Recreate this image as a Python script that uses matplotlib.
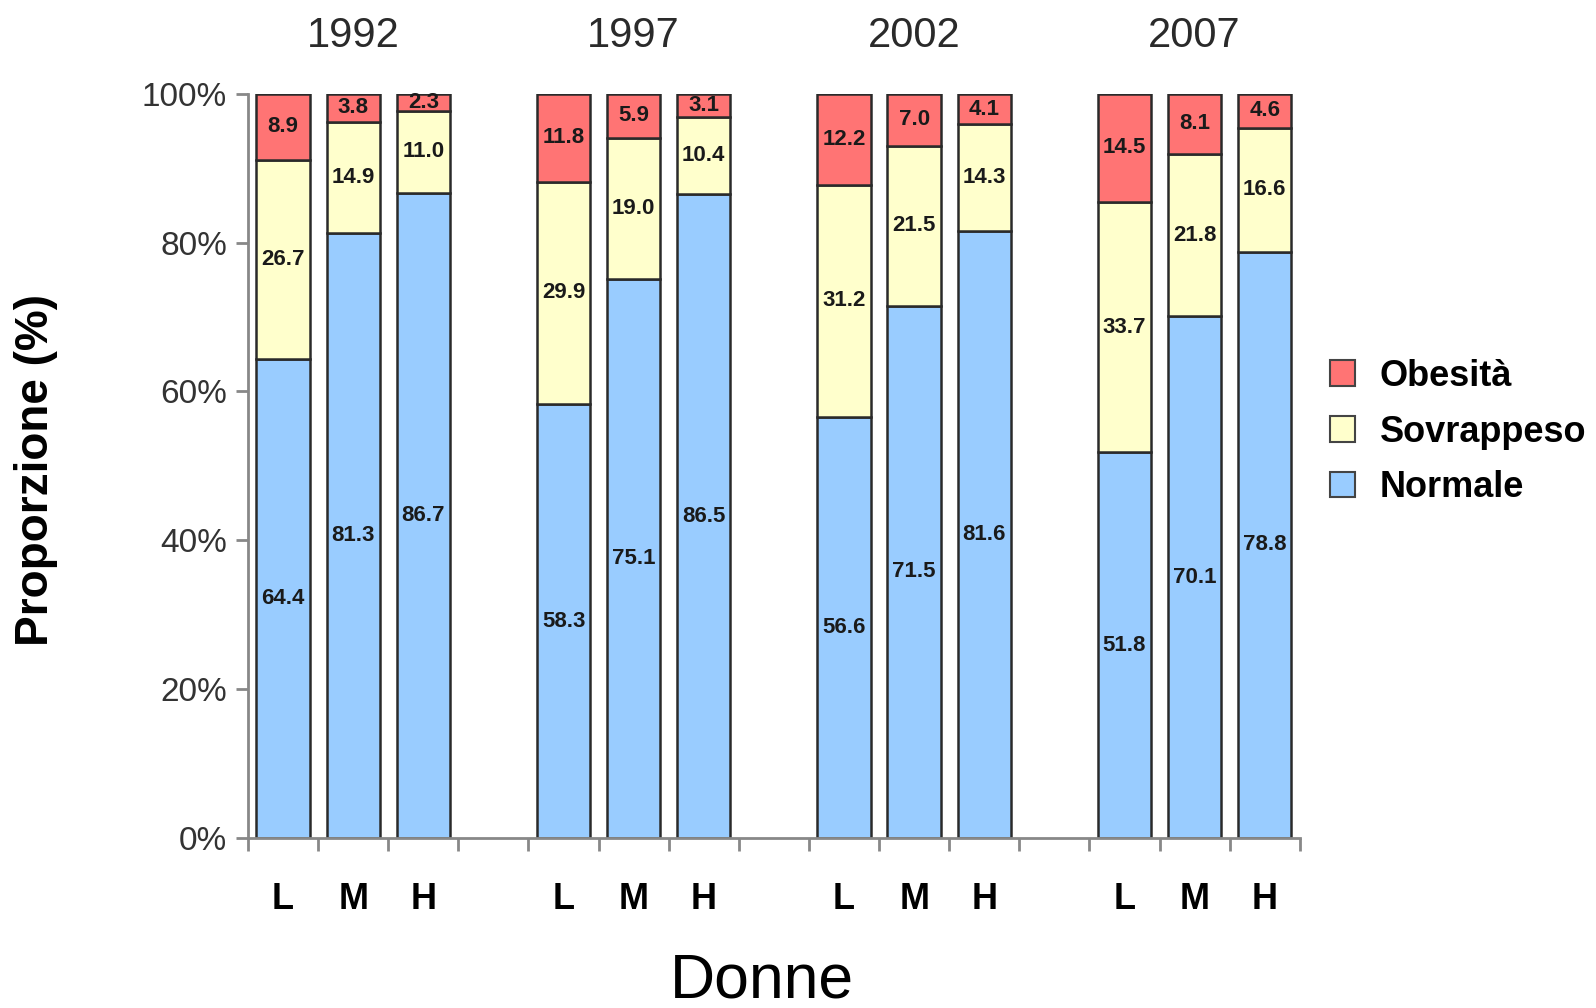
import matplotlib
matplotlib.use("Agg")
import matplotlib.pyplot as plt
from matplotlib.patches import Patch
import numpy as np

plt.rcParams["font.family"] = ["Liberation Sans", "DejaVu Sans"]

anni = ["1992", "1997", "2002", "2007"]
livelli = ["L", "M", "H"]

# valori per barra: 1992 L, M, H, 1997 L, M, H, ...
normale = [64.4, 81.3, 86.7, 58.3, 75.1, 86.5, 56.6, 71.5, 81.6, 51.8, 70.1, 78.8]
sovrappeso = [26.7, 14.9, 11.0, 29.9, 19.0, 10.4, 31.2, 21.5, 14.3, 33.7, 21.8, 16.6]
obesita = [8.9, 3.8, 2.3, 11.8, 5.9, 3.1, 12.2, 7.0, 4.1, 14.5, 8.1, 4.6]

col_norm = "#99CCFF"
col_sovr = "#FFFFCC"
col_obes = "#FF7474"

# posizioni: 3 barre per anno, uno spazio vuoto tra i gruppi
pos = np.array([g * 4 + i for g in range(len(anni)) for i in range(3)])
normale = np.array(normale)
sovrappeso = np.array(sovrappeso)
obesita = np.array(obesita)

fig = plt.figure(figsize=(15.96, 10.08), dpi=100)
ax = fig.add_axes([0.1554, 0.1687, 0.659, 0.7383])

w = 0.76
kw = dict(width=w, edgecolor="#2a2a2a", linewidth=1.8)
ax.bar(pos, normale, color=col_norm, **kw)
ax.bar(pos, sovrappeso, bottom=normale, color=col_sovr, **kw)
ax.bar(pos, obesita, bottom=normale + sovrappeso, color=col_obes, **kw)

lab = dict(ha="center", va="center", fontsize=16, fontweight="bold", color="#1a1a1a")
for x, n, s, o in zip(pos, normale, sovrappeso, obesita):
    ax.text(x, n / 2, f"{n:.1f}", **lab)
    ax.text(x, n + s / 2, f"{s:.1f}", **lab)
    ax.text(x, n + s + o / 2, f"{o:.1f}", **lab)

ax.set_xlim(-0.5, 14.5)
ax.set_ylim(0, 100)

for sp in ["top", "right"]:
    ax.spines[sp].set_visible(False)
for sp in ["left", "bottom"]:
    ax.spines[sp].set_color("#888888")
    ax.spines[sp].set_linewidth(2)

ax.set_yticks(np.arange(0, 101, 20))
ax.set_yticklabels([f"{v}%" for v in range(0, 101, 20)])
ax.tick_params(axis="y", length=9, width=2, color="#888888", labelsize=24,
               labelcolor="#333333", pad=6)

ax.set_xticks(np.arange(-0.5, 15, 1))
ax.set_xticklabels([])
ax.tick_params(axis="x", which="major", length=9, width=2, color="#888888")
ax.set_xticks(pos, minor=True)
ax.set_xticklabels(livelli * len(anni), minor=True)
ax.tick_params(axis="x", which="minor", length=0, labelsize=26, pad=32)
for t in ax.get_xticklabels(minor=True):
    t.set_fontweight("bold")

for g, anno in enumerate(anni):
    ax.text(g * 4 + 1, 107.8, anno, ha="center", va="center", fontsize=30,
            color="#2a2a2a", clip_on=False)

fig.text(36 / 1596, 1 - 470 / 1008, "Proporzione (%)", rotation=90, ha="center",
         va="center", fontsize=33, fontweight="bold")
fig.text(762 / 1596, 1 - 997 / 1008, "Donne", ha="center", va="baseline", fontsize=45)

handles = [Patch(facecolor=col_obes, edgecolor="#444444", linewidth=1.5),
           Patch(facecolor=col_sovr, edgecolor="#444444", linewidth=1.5),
           Patch(facecolor=col_norm, edgecolor="#444444", linewidth=1.5)]
leg = fig.legend(handles, ["Obesità", "Sovrappeso", "Normale"], loc="center left",
                 bbox_to_anchor=(1330 / 1596, 1 - 432 / 1008), frameon=False,
                 prop={"size": 26, "weight": "bold"}, handlelength=0.7,
                 handleheight=0.7, handletextpad=0.68, labelspacing=0.58,
                 borderpad=0, borderaxespad=0)

fig.savefig("out.png", dpi=100)
